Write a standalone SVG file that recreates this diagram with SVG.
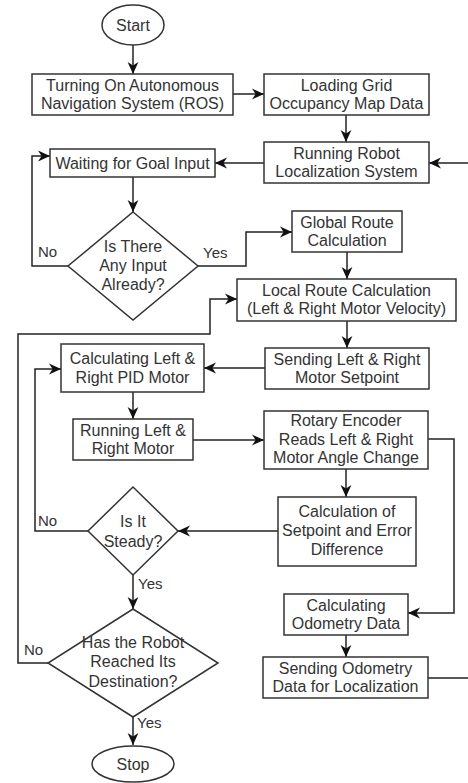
<svg xmlns="http://www.w3.org/2000/svg" width="468" height="783" viewBox="0 0 468 783">
<style>
.n{fill:#fff;stroke:#333;stroke-width:1.5}
.t{font-family:"Liberation Sans",Arial,sans-serif;font-size:16px;fill:#333;text-anchor:middle}
.l{font-family:"Liberation Sans",Arial,sans-serif;font-size:15px;fill:#333}
.c{fill:none;stroke:#222;stroke-width:1.5}
</style>
<defs>
<marker id="a" markerUnits="userSpaceOnUse" markerWidth="12" markerHeight="12" viewBox="0 0 10 10" refX="10" refY="5" orient="auto">
<path d="M0,0.5 L10,5 L0,9.5 L3,5 z" fill="#111"/>
</marker>
</defs>
<rect width="468" height="783" fill="#fff"/>
<g id="connectors">
<path class="c" marker-end="url(#a)" d="M133,45 V74"/>
<path class="c" marker-end="url(#a)" d="M233,94 H264"/>
<path class="c" marker-end="url(#a)" d="M346,115 V142"/>
<path class="c" marker-end="url(#a)" d="M264,163 H215"/>
<path class="c" marker-end="url(#a)" d="M428,678 H480 V163 H429"/>
<path class="c" marker-end="url(#a)" d="M133,177 V212"/>
<path class="c" marker-end="url(#a)" d="M68,266 H32 V156 H50"/>
<path class="c" marker-end="url(#a)" d="M198,266 H246 V232 H292"/>
<path class="c" marker-end="url(#a)" d="M347,252 V279"/>
<path class="c" marker-end="url(#a)" d="M48,663 H18 V334 H210 V299 H237"/>
<path class="c" marker-end="url(#a)" d="M347,321 V348"/>
<path class="c" marker-end="url(#a)" d="M265,368 H204"/>
<path class="c" marker-end="url(#a)" d="M133,392 V419"/>
<path class="c" marker-end="url(#a)" d="M193,440 H264"/>
<path class="c" marker-end="url(#a)" d="M428,439 H454 V613 H408"/>
<path class="c" marker-end="url(#a)" d="M346,469 V497"/>
<path class="c" marker-end="url(#a)" d="M278,531 H178"/>
<path class="c" marker-end="url(#a)" d="M88,531 H35 V369 H61"/>
<path class="c" marker-end="url(#a)" d="M133,575 V609"/>
<path class="c" marker-end="url(#a)" d="M346,635 V657"/>
<path class="c" marker-end="url(#a)" d="M133,717 V745"/>
<text class="l" x="38" y="257">No</text>
<text class="l" x="203" y="258">Yes</text>
<text class="l" x="38" y="526">No</text>
<text class="l" x="138" y="589">Yes</text>
<text class="l" x="24" y="655">No</text>
<text class="l" x="137" y="728">Yes</text>
</g>
<g id="start"><ellipse class="n" cx="133" cy="25" rx="31" ry="20"/><text class="t" x="133" y="31">Start</text></g>
<g id="turning"><rect class="n" x="32" y="74" width="201" height="41"/><text class="t" x="132.5" y="91">Turning On Autonomous</text><text class="t" x="132.5" y="109">Navigation System (ROS)</text></g>
<g id="loading"><rect class="n" x="264" y="74" width="165" height="41"/><text class="t" x="346.5" y="91">Loading Grid</text><text class="t" x="346.5" y="109">Occupancy Map Data</text></g>
<g id="localization"><rect class="n" x="264" y="142" width="165" height="41"/><text class="t" x="346.5" y="159">Running Robot</text><text class="t" x="346.5" y="177">Localization System</text></g>
<g id="waiting"><rect class="n" x="50" y="149" width="165" height="28"/><text class="t" x="132.5" y="168.5">Waiting for Goal Input</text></g>
<g id="input"><path class="n" d="M133,212 L198,266 L133,320 L68,266 Z"/><text class="t" x="133" y="252">Is There</text><text class="t" x="133" y="271">Any Input</text><text class="t" x="133" y="290">Already?</text></g>
<g id="global"><rect class="n" x="292" y="211" width="110" height="41"/><text class="t" x="347" y="228">Global Route</text><text class="t" x="347" y="246">Calculation</text></g>
<g id="local"><rect class="n" x="237" y="279" width="219" height="42"/><text class="t" x="346.5" y="296">Local Route Calculation</text><text class="t" x="346.5" y="314">(Left &amp; Right Motor Velocity)</text></g>
<g id="setpoint"><rect class="n" x="265" y="348" width="164" height="41"/><text class="t" x="347" y="365">Sending Left &amp; Right</text><text class="t" x="347" y="383">Motor Setpoint</text></g>
<g id="pid"><rect class="n" x="61" y="344" width="143" height="48"/><text class="t" x="132.5" y="364">Calculating Left &amp;</text><text class="t" x="132.5" y="383">Right PID Motor</text></g>
<g id="motor"><rect class="n" x="73" y="419" width="120" height="41"/><text class="t" x="133" y="436">Running Left &amp;</text><text class="t" x="133" y="454">Right Motor</text></g>
<g id="encoder"><rect class="n" x="264" y="411" width="164" height="58"/><text class="t" x="346" y="426">Rotary Encoder</text><text class="t" x="346" y="445">Reads Left &amp; Right</text><text class="t" x="346" y="463">Motor Angle Change</text></g>
<g id="error"><rect class="n" x="278" y="497" width="138" height="69"/><text class="t" x="347" y="517">Calculation of</text><text class="t" x="347" y="536">Setpoint and Error</text><text class="t" x="347" y="555">Difference</text></g>
<g id="steady"><path class="n" d="M133,487 L178,531 L133,575 L88,531 Z"/><text class="t" x="133" y="527">Is It</text><text class="t" x="133" y="547">Steady?</text></g>
<g id="destination"><path class="n" d="M133,609 L218,663 L133,717 L48,663 Z"/><text class="t" x="133" y="648">Has the Robot</text><text class="t" x="133" y="667">Reached Its</text><text class="t" x="133" y="687">Destination?</text></g>
<g id="stop"><ellipse class="n" cx="133" cy="764" rx="41" ry="18"/><text class="t" x="133" y="770">Stop</text></g>
<g id="odometry"><rect class="n" x="284" y="594" width="124" height="41"/><text class="t" x="346" y="611">Calculating</text><text class="t" x="346" y="629">Odometry Data</text></g>
<g id="sendodom"><rect class="n" x="263" y="657" width="165" height="41"/><text class="t" x="345.5" y="674">Sending Odometry</text><text class="t" x="345.5" y="692">Data for Localization</text></g>
</svg>
